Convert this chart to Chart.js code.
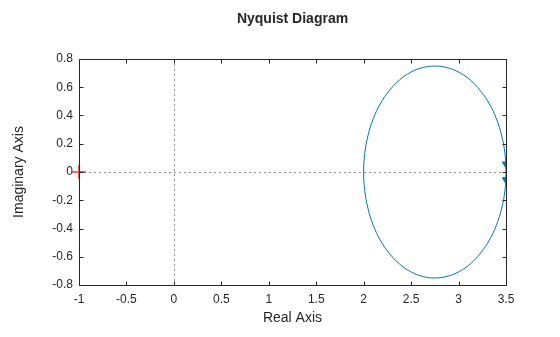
<!DOCTYPE html>
<html>
<head>
<meta charset="utf-8">
<script src="https://cdn.jsdelivr.net/npm/chart.js@4"></script>
<style>
  html, body { margin: 0; padding: 0; background: #fff; }
  #wrap { width: 560px; height: 337px; position: relative; }
</style>
</head>
<body>
<div id="wrap"><canvas id="chart" width="560" height="337"></canvas></div>
<script>
// Nyquist curve (real, imaginary)
const curveRe = [3.5, 3.489, 3.455, 3.400, 3.325, 3.232, 3.125, 3.007, 2.880, 2.750, 2.620, 2.493, 2.375, 2.268, 2.175, 2.100, 2.045, 2.011, 2.0,
                 2.011, 2.045, 2.100, 2.175, 2.268, 2.375, 2.493, 2.620, 2.750, 2.880, 3.007, 3.125, 3.232, 3.325, 3.400, 3.455, 3.489, 3.5];
const curveIm = [0, 0.130, 0.256, 0.375, 0.482, 0.574, 0.650, 0.705, 0.739, 0.750, 0.739, 0.705, 0.650, 0.574, 0.482, 0.375, 0.256, 0.130, 0,
                 -0.130, -0.256, -0.375, -0.482, -0.574, -0.650, -0.705, -0.739, -0.750, -0.739, -0.705, -0.650, -0.574, -0.482, -0.375, -0.256, -0.130, 0];
const arrowRe = [3.494, 3.494];
const arrowIm = [0.058, -0.052];
const critRe = [-1];
const critIm = [0];
const xTicks = [-1, -0.5, 0, 0.5, 1, 1.5, 2, 2.5, 3, 3.5];
const yTicks = [-0.8, -0.6, -0.4, -0.2, 0, 0.2, 0.4, 0.6, 0.8];

const toPts = (xs, ys) => xs.map((x, i) => ({ x: x, y: ys[i] }));
const FONT = '"Liberation Sans", Arial, sans-serif';
const INK = '#262626';

// box, inward ticks, dotted zero lines, title
const frame = {
  id: 'frame',
  beforeDatasetsDraw(chart) {
    const { ctx, chartArea: a, scales: { x, y } } = chart;
    ctx.save();
    ctx.strokeStyle = '#8c8c8c';
    ctx.lineWidth = 1;
    ctx.setLineDash([2, 3]);
    const x0 = Math.round(x.getPixelForValue(0)) + 0.5;
    const y0 = Math.round(y.getPixelForValue(0)) + 0.5;
    ctx.beginPath();
    ctx.moveTo(x0, a.top); ctx.lineTo(x0, a.bottom);
    ctx.moveTo(a.left, y0); ctx.lineTo(a.right, y0);
    ctx.stroke();
    ctx.restore();
  },
  afterDatasetsDraw(chart) {
    const { ctx, chartArea: a, scales: { x, y } } = chart;
    ctx.save();
    ctx.strokeStyle = INK;
    ctx.lineWidth = 1;
    const L = Math.round(a.left) + 0.5, R = Math.round(a.right) + 0.5;
    const T = Math.round(a.top) + 0.5, B = Math.round(a.bottom) + 0.5;
    ctx.beginPath();
    ctx.rect(L, T, R - L, B - T);
    xTicks.forEach(v => {
      const p = Math.round(x.getPixelForValue(v)) + 0.5;
      ctx.moveTo(p, B); ctx.lineTo(p, B - 4);
      ctx.moveTo(p, T); ctx.lineTo(p, T + 4);
    });
    yTicks.forEach(v => {
      const p = Math.round(y.getPixelForValue(v)) + 0.5;
      ctx.moveTo(L, p); ctx.lineTo(L + 4, p);
      ctx.moveTo(R, p); ctx.lineTo(R - 4, p);
    });
    ctx.stroke();
    ctx.fillStyle = INK;
    ctx.font = 'bold 14px ' + FONT;
    ctx.textAlign = 'center';
    ctx.textBaseline = 'middle';
    ctx.fillText('Nyquist Diagram', (a.left + a.right) / 2, 19);
    ctx.restore();
  }
};

new Chart(document.getElementById('chart'), {
  type: 'scatter',
  data: {
    datasets: [
      { data: toPts(curveRe, curveIm), showLine: true, borderColor: '#0072BD', borderWidth: 1, pointRadius: 0, tension: 0.4 },
      { data: toPts(arrowRe, arrowIm), showLine: false, pointStyle: 'triangle', rotation: 180, pointRadius: 3.5,
        backgroundColor: '#0072BD', borderColor: '#0072BD', borderWidth: 1 },
      { data: toPts(critRe, critIm), showLine: false, pointStyle: 'cross', pointRadius: 7, borderWidth: 2,
        borderColor: 'rgba(255,40,40,0.75)', clip: false },
    ],
  },
  options: {
    responsive: false,
    animation: false,
    layout: { padding: { top: 59, right: 54, left: 0, bottom: 0 } },
    plugins: { legend: { display: false }, tooltip: { enabled: false } },
    scales: {
      x: {
        type: 'linear', min: -1, max: 3.5,
        afterBuildTicks: s => { s.ticks = xTicks.map(v => ({ value: v })); },
        afterFit: s => { s.height = 52; },
        grid: { display: false, drawTicks: false },
        border: { display: false },
        ticks: { color: INK, font: { family: FONT, size: 12 }, padding: 7, callback: v => String(v) },
        title: { display: true, text: 'Real Axis', color: INK, font: { family: FONT, size: 14 }, padding: { top: 2, bottom: 10 } },
      },
      y: {
        type: 'linear', min: -0.8, max: 0.8,
        afterBuildTicks: s => { s.ticks = yTicks.map(v => ({ value: v })); },
        afterFit: s => { s.width = 79; },
        grid: { display: false, drawTicks: false },
        border: { display: false },
        ticks: { color: INK, font: { family: FONT, size: 12 }, padding: 6, callback: v => String(v) },
        title: { display: true, text: 'Imaginary Axis', color: INK, font: { family: FONT, size: 14 }, padding: { top: 11, bottom: 4 } },
      },
    },
  },
  plugins: [frame],
});
</script>
</body>
</html>
